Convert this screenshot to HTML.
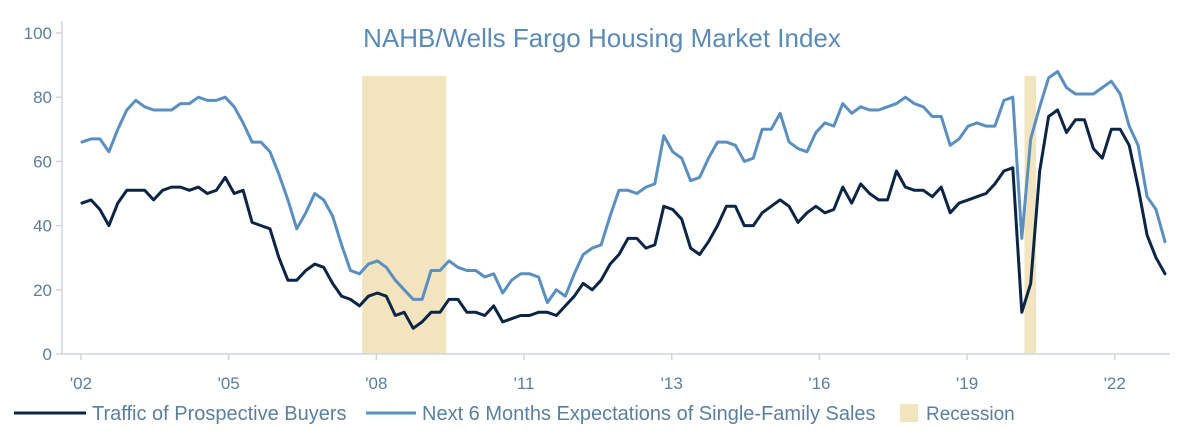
<!DOCTYPE html>
<html><head><meta charset="utf-8"><style>
body{margin:0;background:#fff;width:1198px;height:433px;overflow:hidden;font-family:"Liberation Sans",sans-serif}
</style></head><body>
<svg width="1198" height="433" xmlns="http://www.w3.org/2000/svg">
<text x="602" y="47" text-anchor="middle" font-size="26" fill="#5a8bb7">NAHB/Wells Fargo Housing Market Index</text>
<g id="rec"></g><g id="yax"></g><g id="xax"></g><g id="lines"></g>
<g font-size="19" fill="#5a7f9f">
<line x1="14" y1="413" x2="86" y2="413" stroke="#0b2545" stroke-width="3"/>
<text x="92" y="420" font-size="20">Traffic of Prospective Buyers</text>
<line x1="366" y1="413" x2="416" y2="413" stroke="#5a8fc0" stroke-width="3"/>
<text x="422" y="420" font-size="20">Next 6 Months Expectations of Single-Family Sales</text>
<rect x="900" y="404" width="18" height="18" fill="#f2e4bf"/>
<text x="926" y="420">Recession</text>
</g>
</svg>
<script>
const yTicks=[0,20,40,60,80,100];
const xLabels=["'02","'05","'08","'11","'13","'16","'19","'22"];
const xLabelIdx=[0,16.5,33,49.5,66,82.5,99,115.5];
const recessions=[[31.3,40.7],[105.3,106.6]];
const expectations=[66,67,67,63,70,76,79,77,76,76,76,78,78,80,79,79,80,77,72,66,66,63,56,48,39,44,50,48,43,34,26,25,28,29,27,23,20,17,17,26,26,29,
27,26,26,24,25,19,23,25,25,24,16,20,18,25,31,33,34,43,51,51,50,52,53,68,63,61,54,55,61,66,66,65,60,61,70,70,75,66,64,63,69,
72,71,78,75,77,76,76,77,78,80,78,77,74,74,65,67,71,72,71,71,79,80,36,67,77,86,88,83,81,81,81,83,85,81,71,65,49,45,35];
const traffic=[47,48,45,40,47,51,51,51,48,51,52,52,51,52,50,51,55,50,51,41,40,39,30,23,23,26,28,27,22,18,17,15,18,19,18,12,13,8,10,13,13,17,
17,13,13,12,15,10,11,12,12,13,13,12,15,18,22,20,23,28,31,36,36,33,34,46,45,42,33,31,35,40,46,46,40,40,44,46,48,46,41,44,46,
44,45,52,47,53,50,48,48,57,52,51,51,49,52,44,47,48,49,50,53,57,58,13,22,57,74,76,69,73,73,64,61,70,70,65,52,37,30,25];
const NS="http://www.w3.org/2000/svg";
const X0=82,X1=1165,Y0=354,YT=33;
const n=traffic.length;
const xs=i=>X0+i*(X1-X0)/(n-1);
const ys=v=>Y0-(v/100)*(Y0-YT);
function mk(t,a,p){const e=document.createElementNS(NS,t);for(const k in a)e.setAttribute(k,a[k]);p.appendChild(e);return e;}
const rec=document.getElementById('rec');
recessions.forEach(r=>{const e=mk('rect',{x:xs(r[0]),y:76,width:xs(r[1])-xs(r[0]),height:Y0-76,fill:'#f2e4bf'},rec);

});
const yax=document.getElementById('yax');
const ya=mk('line',{x1:62,y1:YT-12,x2:62,y2:Y0,stroke:'#cdd6de','stroke-width':1.5},yax);


yTicks.forEach(v=>{mk('line',{x1:56,x2:62,y1:ys(v),y2:ys(v),stroke:'#cdd6de','stroke-width':1.5},yax);
const t=mk('text',{x:52,y:ys(v)+6,'text-anchor':'end','font-size':17,fill:'#5a7f9f'},yax);t.textContent=v;

});
const xax=document.getElementById('xax');
const xa=mk('line',{x1:62,y1:Y0,x2:1170,y2:Y0,stroke:'#cdd6de','stroke-width':1.5},xax);


xLabels.forEach((l,i)=>{const x=xs(xLabelIdx[i])-1;mk('line',{x1:x,x2:x,y1:Y0,y2:Y0+6,stroke:'#cdd6de','stroke-width':1.5},xax);
const t=mk('text',{x:x,y:389,'text-anchor':'middle','font-size':17,fill:'#5a7f9f'},xax);t.textContent=l;

});
const lines=document.getElementById('lines');
function line(d,c,name){const p=mk('polyline',{points:d.map((v,i)=>xs(i).toFixed(1)+','+ys(v).toFixed(1)).join(' '),fill:'none',stroke:c,'stroke-width':3,'stroke-linejoin':'round','stroke-linecap':'round'},lines);

}
line(expectations,'#5a8fc0','expectations-line');
line(traffic,'#0b2545','traffic-line');
</script>
</body></html>
